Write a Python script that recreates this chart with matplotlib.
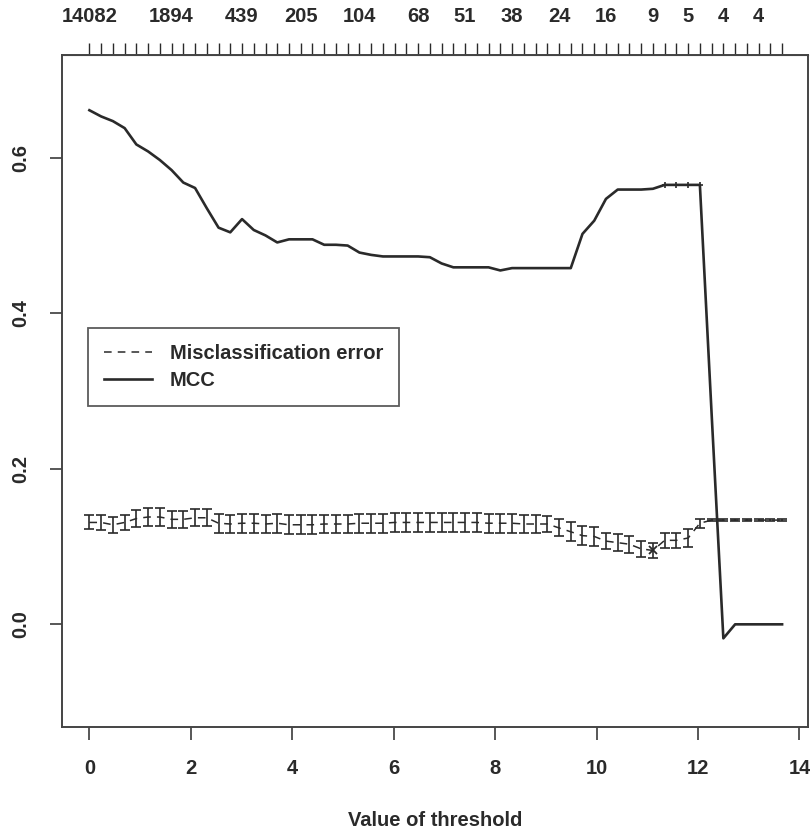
import matplotlib
matplotlib.use("Agg")
import matplotlib.pyplot as plt

# threshold grid (60 values)
thresholds = [0.000, 0.232, 0.463, 0.695, 0.926, 1.158, 1.389, 1.621, 1.852, 2.084,
              2.315, 2.547, 2.778, 3.010, 3.241, 3.473, 3.704, 3.936, 4.167, 4.399,
              4.630, 4.862, 5.093, 5.325, 5.556, 5.788, 6.019, 6.251, 6.482, 6.714,
              6.945, 7.177, 7.408, 7.640, 7.871, 8.103, 8.334, 8.566, 8.797, 9.029,
              9.260, 9.492, 9.723, 9.955, 10.186, 10.418, 10.649, 10.881, 11.112, 11.344,
              11.575, 11.807, 12.038, 12.270, 12.501, 12.733, 12.964, 13.196, 13.427, 13.659]

# MCC per threshold
mcc = [0.661, 0.653, 0.647, 0.638, 0.617, 0.608, 0.597, 0.584, 0.568, 0.561,
       0.535, 0.510, 0.504, 0.521, 0.507, 0.500, 0.491, 0.495, 0.495, 0.495,
       0.488, 0.488, 0.487, 0.478, 0.475, 0.473, 0.473, 0.473, 0.473, 0.472,
       0.464, 0.459, 0.459, 0.459, 0.459, 0.455, 0.458, 0.458, 0.458, 0.458,
       0.458, 0.458, 0.502, 0.519, 0.547, 0.559, 0.559, 0.559, 0.560, 0.565,
       0.565, 0.565, 0.565, 0.270, -0.018, 0.000, 0.000, 0.000, 0.000, 0.000]
mcc_mark_idx = [49, 50, 51, 52]

# misclassification error and its standard error
err = [0.131, 0.131, 0.128, 0.131, 0.136, 0.138, 0.138, 0.135, 0.135, 0.137,
       0.137, 0.130, 0.129, 0.130, 0.130, 0.129, 0.130, 0.128, 0.128, 0.128,
       0.129, 0.129, 0.129, 0.130, 0.130, 0.130, 0.131, 0.131, 0.131, 0.131,
       0.131, 0.131, 0.131, 0.131, 0.130, 0.130, 0.130, 0.129, 0.129, 0.129,
       0.124, 0.119, 0.114, 0.113, 0.107, 0.105, 0.103, 0.097, 0.095, 0.108,
       0.108, 0.111, 0.130, 0.134, 0.134, 0.134, 0.134, 0.134, 0.134, 0.134]
se = [0.009, 0.010, 0.010, 0.010, 0.011, 0.011, 0.011, 0.011, 0.011, 0.011,
      0.011, 0.012, 0.012, 0.012, 0.012, 0.012, 0.012, 0.012, 0.012, 0.012,
      0.012, 0.012, 0.012, 0.012, 0.012, 0.012, 0.012, 0.012, 0.012, 0.012,
      0.012, 0.012, 0.012, 0.012, 0.012, 0.012, 0.012, 0.012, 0.012, 0.010,
      0.011, 0.012, 0.012, 0.012, 0.010, 0.011, 0.011, 0.010, 0.010, 0.010,
      0.010, 0.011, 0.006, 0.0015, 0.0015, 0.0015, 0.0015, 0.0015, 0.0015, 0.0015]

# number of genes shown on the top axis
size_idx = [0, 7, 13, 18, 23, 28, 32, 36, 40, 44, 48, 51, 54, 57]
size_labels = ['14082', '1894', '439', '205', '104', '68', '51', '38',
               '24', '16', '9', '5', '4', '4']

plt.rcParams['font.family'] = ['Liberation Sans', 'DejaVu Sans']
plt.rcParams['font.weight'] = 'bold'
ink = '#2a2a2a'
fs = 14.5

fig = plt.figure(figsize=(8.1, 8.32), dpi=100)
ax = fig.add_axes([62 / 810, 1 - 727 / 832, 746 / 810, 672 / 832])

# misclassification error: dashed line + error bars
ax.plot(thresholds, err, color=ink, lw=1.1, dashes=(5, 4), label='Misclassification error')
ax.errorbar(thresholds, err, yerr=se, fmt='none', ecolor=ink, elinewidth=1.2,
            capsize=3.8, capthick=1.2)
imin = err.index(min(err))
ax.plot(thresholds[imin], err[imin], 'x', color=ink, ms=6, mew=1.3)

# MCC line
ax.plot(thresholds, mcc, color=ink, lw=1.9, label='MCC')
ax.plot([thresholds[i] for i in mcc_mark_idx], [mcc[i] for i in mcc_mark_idx],
        '+', color=ink, ms=5, mew=1.2)

ax.set_xlim(-0.54, 14.17)
ax.set_ylim(-0.132, 0.732)
ax.set_xticks([0, 2, 4, 6, 8, 10, 12, 14])
ax.set_yticks([0.0, 0.2, 0.4, 0.6])
ax.set_yticklabels(['0.0', '0.2', '0.4', '0.6'], rotation=90, va='center')
ax.tick_params(axis='both', direction='out', length=9, width=1.1, color=ink,
               labelsize=fs, labelcolor=ink, pad=14)
ax.set_xlabel('Value of threshold', fontsize=fs, fontweight='bold', color=ink, labelpad=24)

for sp in ax.spines.values():
    sp.set_color('#444444')
    sp.set_linewidth(1.4)

top = ax.secondary_xaxis('top')
top.set_xticks(thresholds)
top_labels = [''] * len(thresholds)
for i, lab in zip(size_idx, size_labels):
    top_labels[i] = lab
top.set_xticklabels(top_labels)
top.tick_params(direction='out', length=9, width=1.0, color=ink,
                labelsize=fs, labelcolor=ink, pad=12)
top.spines['top'].set_color('#444444')

leg = ax.legend(loc='upper left', bbox_to_anchor=((88 - 62) / 746, (727 - 328) / 672),
                borderaxespad=0, fontsize=fs, frameon=True, fancybox=False,
                handlelength=2.4, handletextpad=0.85, borderpad=0.8, labelspacing=0.4)
leg.get_frame().set_edgecolor('#333333')
leg.get_frame().set_linewidth(1.3)
for t in leg.get_texts():
    t.set_color(ink)

fig.savefig('out.png', dpi=100)
